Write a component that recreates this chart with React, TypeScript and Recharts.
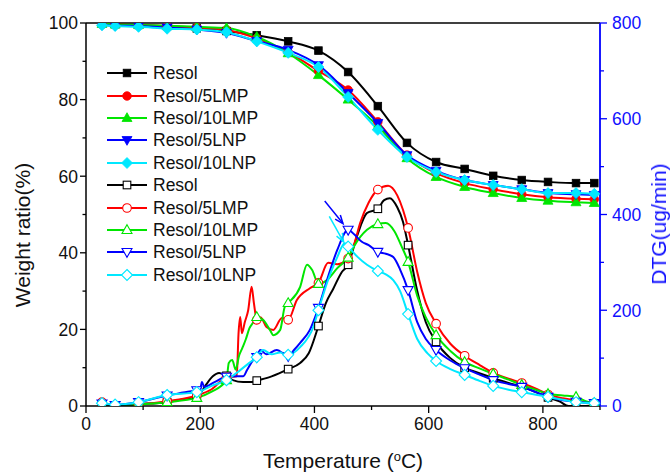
import React from "react";
import { LineChart, Line, XAxis, YAxis, ReferenceLine } from "recharts";

// TG (weight ratio, %) read at the marker temperatures
const tgTemps = [28, 51, 92, 142, 194, 246, 299, 354, 407, 459, 511, 562, 613, 663, 713, 763, 809, 858, 890];
const tgResol = [99.8, 99.7, 99.5, 99.2, 98.6, 97.9, 96.8, 95.2, 92.8, 87.2, 78.3, 68.7, 63.7, 61.9, 60.1, 59.0, 58.5, 58.2, 58.2];
const tg5LMP = [99.6, 99.6, 99.4, 99.2, 98.8, 98.2, 96.0, 92.3, 87.5, 82.5, 74.2, 65.5, 60.8, 58.2, 56.6, 55.3, 54.5, 54.1, 54.0];
const tg10LMP = [99.8, 99.6, 99.5, 99.3, 99.0, 98.7, 96.4, 92.1, 86.4, 80.0, 73.1, 64.7, 59.8, 57.2, 55.6, 54.3, 53.6, 53.2, 53.0];
const tg5LNP = [99.5, 99.3, 99.2, 98.8, 98.3, 97.4, 95.3, 93.0, 89.0, 81.7, 73.9, 65.5, 61.4, 59.0, 57.7, 56.6, 55.6, 55.3, 55.1];
const tg10LNP = [99.4, 99.2, 99.0, 98.5, 98.3, 97.6, 95.2, 92.2, 88.5, 80.7, 72.1, 65.0, 61.1, 59.0, 57.7, 56.6, 55.6, 55.6, 55.4];

// DTG (ug/min) as [temperature, value]
const dtgMarkTemps = [28, 51, 92, 142, 194, 246, 299, 354, 407, 459, 511, 564, 613, 663, 713, 763, 809, 858, 890];
const dtgResol = [
  [28, 2], [51, 1], [92, 4], [142, 8], [170, 14], [194, 20], [200, 26], [210, 44], [222, 62], [233, 69], [246, 63],
  [257, 54], [275, 50], [290, 50], [299, 53], [325, 62], [354, 77], [375, 90], [390, 110], [407, 167], [420, 215],
  [433, 245], [448, 280], [459, 295], [474, 353], [492, 403], [511, 412], [522, 430], [532, 434], [545, 415],
  [555, 385], [564, 336], [580, 240], [595, 175], [613, 134], [638, 100], [663, 80], [690, 68], [713, 58], [740, 48],
  [763, 40], [790, 28], [809, 18], [830, 9], [845, 0], [858, 0], [875, 0], [890, 2],
];
const dtg5LMP = [
  [28, 8], [40, 2], [51, 1], [92, 3], [142, 10], [194, 22], [220, 35], [246, 60], [264, 62], [267, 150], [270, 186],
  [273, 152], [278, 175], [284, 200], [290, 249], [294, 215], [299, 180], [306, 185], [316, 165], [328, 159],
  [343, 184], [354, 180], [369, 221], [392, 246], [407, 257], [424, 299], [440, 296], [459, 308], [470, 340],
  [480, 382], [495, 425], [511, 452], [529, 460], [545, 440], [555, 410], [564, 372], [580, 280], [595, 215],
  [613, 172], [638, 130], [663, 105], [690, 85], [713, 69], [740, 57], [763, 48], [790, 35], [809, 24], [835, 16],
  [858, 12], [875, 8], [890, 6],
];
const dtg10LMP = [
  [28, 1], [51, 0], [92, 3], [142, 8], [194, 17], [220, 30], [246, 54], [250, 90], [256, 96], [262, 76], [268, 105],
  [274, 122], [280, 140], [286, 162], [293, 175], [299, 186], [310, 180], [322, 159], [328, 148], [340, 159],
  [348, 207], [354, 215], [375, 249], [387, 295], [396, 284], [407, 255], [422, 263], [440, 288], [459, 310],
  [470, 335], [492, 368], [511, 380], [525, 382], [540, 365], [552, 335], [564, 301], [580, 230], [595, 185],
  [613, 148], [638, 115], [663, 92], [690, 78], [713, 67], [740, 55], [763, 44], [790, 33], [809, 25], [835, 22],
  [858, 19], [875, 10], [890, 6],
];
const dtg5LNP = [
  [28, 5], [51, 2], [92, 8], [142, 22], [170, 28], [194, 33], [200, 35], [203, 50], [207, 40], [225, 50], [246, 61],
  [265, 62], [275, 62], [282, 75], [292, 95], [299, 102], [305, 117], [316, 108], [334, 117], [354, 104], [365, 118],
  [375, 132], [392, 159], [407, 205], [422, 263], [440, 326], [459, 368], [470, 358], [483, 343], [495, 336],
  [511, 322], [525, 318], [538, 311], [550, 285], [564, 242], [580, 175], [595, 140], [613, 117], [638, 95],
  [663, 79], [690, 65], [713, 54], [740, 46], [763, 40], [790, 28], [809, 19], [835, 12], [858, 9], [890, 6],
];
const dtg10LNP = [
  [28, 6], [51, 3], [92, 8], [142, 23], [194, 29], [220, 42], [246, 54], [270, 75], [286, 90], [299, 102], [310, 117],
  [325, 108], [340, 112], [354, 107], [375, 123], [398, 165], [407, 200], [422, 257], [440, 311], [453, 340],
  [459, 333], [475, 312], [492, 295], [511, 282], [525, 275], [538, 263], [550, 240], [564, 192], [580, 140],
  [598, 110], [613, 94], [638, 77], [663, 65], [690, 52], [713, 42], [740, 34], [763, 29], [790, 23], [809, 19],
  [835, 13], [858, 8], [890, 6],
];

// arrows pointing at the LNP peaks, [temperature, DTG]
const arrow5LNP = [[418, 428], [450, 381]];
const arrow10LNP = [[426, 396], [451, 343]];

const seriesNames = ["Resol", "Resol/5LMP", "Resol/10LMP", "Resol/5LNP", "Resol/10LNP"];
const colors = ["#000000", "#ff0000", "#00e600", "#0000ff", "#00e8ff"];
const shapes = ["square", "circle", "up", "down", "diamond"];

const tgSets = [tgResol, tg5LMP, tg10LMP, tg5LNP, tg10LNP].map((vals) =>
  vals.map((v, i) => ({ t: tgTemps[i], v }))
);
const dtgSets = [dtgResol, dtg5LMP, dtg10LMP, dtg5LNP, dtg10LNP].map((pts) =>
  pts.map(([t, v]) => ({ t, v }))
);

const FONT = '"Liberation Sans", Arial, sans-serif';

const Marker = ({ shape, cx, cy, color, filled }: any) => {
  const fill = filled ? color : "#ffffff";
  const sw = filled ? 0.8 : 1.1;
  switch (shape) {
    case "square":
      return <rect x={cx - 3.8} y={cy - 3.8} width={7.6} height={7.6} fill={fill} stroke={color} strokeWidth={sw} />;
    case "circle":
      return <circle cx={cx} cy={cy} r={4.3} fill={fill} stroke={color} strokeWidth={sw} />;
    case "up":
      return (
        <polygon
          points={`${cx},${cy - 5.3} ${cx + 5},${cy + 3.5} ${cx - 5},${cy + 3.5}`}
          fill={fill} stroke={color} strokeWidth={sw}
        />
      );
    case "down":
      return (
        <polygon
          points={`${cx},${cy + 5.3} ${cx + 5},${cy - 3.5} ${cx - 5},${cy - 3.5}`}
          fill={fill} stroke={color} strokeWidth={sw}
        />
      );
    default:
      return (
        <polygon
          points={`${cx},${cy - 5.5} ${cx + 5.5},${cy} ${cx},${cy + 5.5} ${cx - 5.5},${cy}`}
          fill={fill} stroke={color} strokeWidth={sw}
        />
      );
  }
};

const LeftTick = (p: any) => {
  const { x, y, payload } = p;
  const major = payload.value % 20 === 0;
  return (
    <g>
      <line x1={x - (major ? 6 : 3.5)} x2={x} y1={y} y2={y} stroke="#000" strokeWidth={1.3} />
      {major && (
        <text x={x - 8} y={y} dy="0.36em" textAnchor="end" fontSize={17.5} fontFamily={FONT} fill="#111">
          {payload.value}
        </text>
      )}
    </g>
  );
};

const RightTick = (p: any) => {
  const { x, y, payload } = p;
  const major = payload.value % 200 === 0;
  return (
    <g>
      <line x1={x} x2={x + (major ? 7 : 4)} y1={y} y2={y} stroke="#0000ff" strokeWidth={1.3} />
      {major && (
        <text x={x + 12} y={y} dy="0.36em" textAnchor="start" fontSize={17.5} fontFamily={FONT} fill="#1010ff">
          {payload.value}
        </text>
      )}
    </g>
  );
};

const BottomTick = (p: any) => {
  const { x, y, payload } = p;
  const major = payload.value % 200 === 0;
  return (
    <g>
      <line x1={x} x2={x} y1={y} y2={y + (major ? 7 : 4)} stroke="#000" strokeWidth={1.3} />
      {major && (
        <text x={x} y={y + 24} textAnchor="middle" fontSize={17.5} fontFamily={FONT} fill="#111">
          {payload.value}
        </text>
      )}
    </g>
  );
};

const arrowShape = (color: string) => (p: any) => {
  const { x1, y1, x2, y2 } = p;
  const ang = Math.atan2(y2 - y1, x2 - x1);
  const L = 9;
  const a = 0.38;
  const h1 = `${x2 - L * Math.cos(ang - a)},${y2 - L * Math.sin(ang - a)}`;
  const h2 = `${x2 - L * Math.cos(ang + a)},${y2 - L * Math.sin(ang + a)}`;
  return (
    <g>
      <line x1={x1} y1={y1} x2={x2} y2={y2} stroke={color} strokeWidth={1.5} />
      <polyline points={`${h1} ${x2},${y2} ${h2}`} fill="none" stroke={color} strokeWidth={1.5} />
    </g>
  );
};

const LegendRow = ({ name, color, shape, filled }: any) => (
  <div style={{ display: "flex", alignItems: "center", height: 22.4 }}>
    <svg width={42} height={14} style={{ overflow: "visible" }}>
      <line x1={0} x2={40} y1={7} y2={7} stroke={color} strokeWidth={2.2} />
      <Marker shape={shape} cx={20} cy={7} color={color} filled={filled} />
    </svg>
    <span style={{ marginLeft: 4, fontSize: 17.5, color: "#111", lineHeight: "18px" }}>{name}</span>
  </div>
);

export default function App() {
  return (
    <div style={{ position: "fixed", left: 0, top: 0, width: 670, height: 475, background: "#fff", fontFamily: FONT }}>
      <LineChart width={670} height={475} margin={{ top: 23, right: 10, bottom: 29, left: 26 }}>
        <XAxis
          dataKey="t"
          type="number"
          domain={[0, 900]}
          ticks={[0, 100, 200, 300, 400, 500, 600, 700, 800, 900]}
          interval={0}
          height={40}
          tickSize={0}
          tickMargin={0}
          tickLine={false}
          tick={<BottomTick />}
          axisLine={{ stroke: "#000", strokeWidth: 1.5 }}
        />
        <YAxis
          yAxisId="w"
          orientation="left"
          type="number"
          domain={[0, 100]}
          ticks={[0, 10, 20, 30, 40, 50, 60, 70, 80, 90, 100]}
          interval={0}
          width={60}
          tickSize={0}
          tickMargin={0}
          tickLine={false}
          tick={<LeftTick />}
          axisLine={{ stroke: "#000", strokeWidth: 1.5 }}
          allowDataOverflow
        />
        <YAxis
          yAxisId="d"
          orientation="right"
          type="number"
          domain={[0, 800]}
          ticks={[0, 100, 200, 300, 400, 500, 600, 700, 800]}
          interval={0}
          width={60}
          tickSize={0}
          tickMargin={0}
          tickLine={false}
          tick={<RightTick />}
          axisLine={{ stroke: "#0000ff", strokeWidth: 1.8 }}
          allowDataOverflow
        />
        <ReferenceLine yAxisId="w" y={100} stroke="#000" strokeWidth={1.5} />

        {tgSets.map((data, i) => (
          <Line
            key={"tg" + i}
            yAxisId="w"
            data={data}
            dataKey="v"
            type="monotone"
            stroke={colors[i]}
            strokeWidth={2}
            activeDot={false}
            isAnimationActive={false}
            dot={(p: any) => (
              <Marker key={p.key ?? "d" + p.index} shape={shapes[i]} cx={p.cx} cy={p.cy} color={colors[i]} filled />
            )}
          />
        ))}

        {dtgSets.map((data, i) => (
          <Line
            key={"dtg" + i}
            yAxisId="d"
            data={data}
            dataKey="v"
            type="monotone"
            stroke={colors[i]}
            strokeWidth={2}
            activeDot={false}
            isAnimationActive={false}
            dot={(p: any) =>
              dtgMarkTemps.includes(p.payload.t) ? (
                <Marker key={p.key ?? "d" + p.index} shape={shapes[i]} cx={p.cx} cy={p.cy} color={colors[i]} filled={false} />
              ) : (
                <g key={p.key ?? "d" + p.index} />
              )
            }
          />
        ))}

        <ReferenceLine
          yAxisId="d"
          segment={[{ x: arrow5LNP[0][0], y: arrow5LNP[0][1] }, { x: arrow5LNP[1][0], y: arrow5LNP[1][1] }]}
          shape={arrowShape("#0000ff")}
          ifOverflow="visible"
        />
        <ReferenceLine
          yAxisId="d"
          segment={[{ x: arrow10LNP[0][0], y: arrow10LNP[0][1] }, { x: arrow10LNP[1][0], y: arrow10LNP[1][1] }]}
          shape={arrowShape("#00e8ff")}
          ifOverflow="visible"
        />
      </LineChart>

      <div style={{ position: "absolute", left: 107, top: 62 }}>
        {seriesNames.map((n, i) => (
          <LegendRow key={"f" + i} name={n} color={colors[i]} shape={shapes[i]} filled />
        ))}
        {seriesNames.map((n, i) => (
          <LegendRow key={"o" + i} name={n} color={colors[i]} shape={shapes[i]} filled={false} />
        ))}
      </div>

      <div
        style={{
          position: "absolute", left: 23, top: 235, transform: "translate(-50%, -50%) rotate(-90deg)",
          whiteSpace: "nowrap", fontSize: 21, color: "#111",
        }}
      >
        Weight ratio(%)
      </div>
      <div
        style={{
          position: "absolute", left: 659, top: 224, transform: "translate(-50%, -50%) rotate(-90deg)",
          whiteSpace: "nowrap", fontSize: 21, color: "#1010ff",
        }}
      >
        DTG(ug/min)
      </div>
      <div
        style={{
          position: "absolute", left: 343, top: 461, transform: "translate(-50%, -50%)",
          whiteSpace: "nowrap", fontSize: 21, color: "#111",
        }}
      >
        Temperature (<sup style={{ fontSize: 13, verticalAlign: 7 }}>o</sup>C)
      </div>
    </div>
  );
}
